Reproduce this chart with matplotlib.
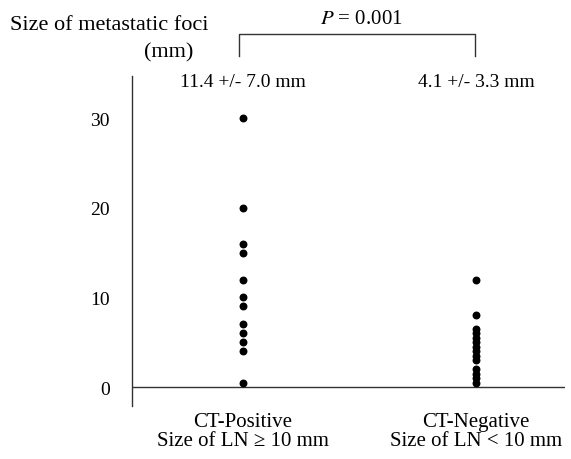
import matplotlib.pyplot as plt

plt.rcParams['font.family'] = ['Liberation Serif', 'DejaVu Serif']

groups = ['CT-Positive\nSize of LN \u2265 10 mm', 'CT-Negative\nSize of LN < 10 mm']
pos_vals = [30, 20, 16, 15, 12, 10, 9, 7, 6, 5, 4, 0.5]
neg_vals = [12, 8, 6.5, 6, 5.5, 5, 4.5, 4, 3.5, 3, 2, 1.5, 1, 0.5]
mean_txt = ['11.4 +/- 7.0 mm', '4.1 +/- 3.3 mm']
yticks = [0, 10, 20, 30]

W, H = 571, 460
fig = plt.figure(figsize=(W / 100, H / 100), dpi=100)
ax = fig.add_axes([132 / W, 1 - 407 / H, (565 - 132) / W, (407 - 77) / H])

ax.scatter([1] * len(pos_vals), pos_vals, s=22, color='black', zorder=3, clip_on=False)
ax.scatter([2] * len(neg_vals), neg_vals, s=22, color='black', zorder=3, clip_on=False)
ax.axhline(0, color='#333333', lw=1.0)

ax.set_xlim(0.524, 2.382)
ax.set_ylim(-2.1, 34.7)
for s in ['top', 'right', 'bottom']:
    ax.spines[s].set_visible(False)
ax.spines['left'].set_linewidth(1.0)
ax.spines['left'].set_color('#333333')

ax.set_yticks(yticks)
ax.tick_params(axis='y', length=0, pad=16, labelsize=14)
ax.set_xticks([1, 2])
ax.set_xticklabels(groups, fontsize=15, linespacing=1.05)
ax.tick_params(axis='x', length=0, pad=4)

# means
for i, t in enumerate(mean_txt):
    ax.text(i + 1, 34.1, t, ha='center', va='center', fontsize=14, clip_on=False)

# bracket with p-value
ax.plot([0.983, 0.983, 1.996, 1.996], [36.9, 39.4, 39.4, 36.9], color='#333333', lw=1.0, clip_on=False)
ax.text(1.506, 41.1, '$P$ = 0.001', ha='center', va='center', fontsize=15,
        math_fontfamily='stix')

fig.text(10 / W, 1 - 25 / H, 'Size of metastatic foci', ha='left', va='center', fontsize=16)
fig.text(169 / W, 1 - 53 / H, '(mm)', ha='center', va='center', fontsize=16)

fig.savefig('out.png', dpi=100)
